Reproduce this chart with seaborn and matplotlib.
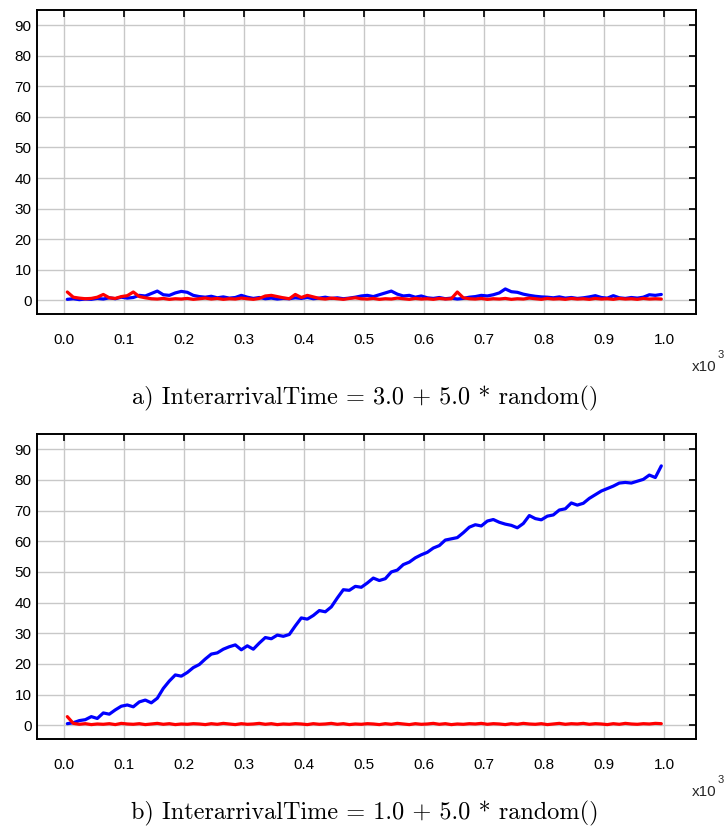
import numpy as np
import pandas as pd
import matplotlib
matplotlib.use("Agg")
import matplotlib.pyplot as plt
import seaborn as sns

# time axis (simulation time), one sample every 10 time units
t = np.arange(5, 1000, 10)

# a) InterarrivalTime = 3.0 + 5.0 * random()
top_blue = [0.3, 0.5, 0.2, 0.4, 0.3, 0.6, 0.4, 0.8, 0.5, 1.0,
            0.7, 0.9, 1.6, 1.4, 2.2, 3.0, 1.8, 1.6, 2.4, 2.9,
            2.6, 1.6, 1.2, 1.0, 1.3, 0.8, 1.1, 0.7, 0.9, 1.6,
            1.0, 0.6, 0.9, 0.5, 0.7, 0.4, 0.6, 0.5, 0.8, 0.6,
            0.9, 0.5, 0.7, 1.0, 0.6, 0.8, 0.5, 0.7, 1.0, 1.4,
            1.6, 1.2, 1.8, 2.4, 3.0, 2.0, 1.4, 1.6, 1.0, 1.4,
            0.8, 0.6, 0.9, 0.5, 0.7, 0.4, 0.6, 1.0, 1.2, 1.6,
            1.4, 1.8, 2.4, 3.7, 2.8, 2.6, 2.0, 1.6, 1.3, 1.1,
            1.0, 0.8, 1.1, 0.7, 0.9, 0.6, 0.8, 1.1, 1.5, 0.9,
            0.7, 1.5, 0.8, 0.6, 0.9, 0.7, 1.0, 1.8, 1.6, 1.9]
top_red = [2.7, 1.0, 0.7, 0.5, 0.6, 1.0, 1.9, 0.8, 0.6, 1.2,
           1.5, 2.7, 1.2, 0.8, 0.5, 0.4, 0.6, 0.3, 0.5, 0.4,
           0.6, 0.3, 0.5, 0.7, 0.4, 0.6, 0.3, 0.5, 0.4, 0.7,
           0.5, 0.3, 0.6, 1.4, 1.6, 1.2, 0.8, 0.5, 1.9, 0.9,
           1.6, 1.1, 0.6, 0.4, 0.7, 0.5, 0.3, 0.6, 0.8, 0.5,
           0.4, 0.6, 0.3, 0.5, 0.4, 0.7, 0.5, 0.3, 0.6, 0.4,
           0.5, 0.3, 0.6, 0.4, 0.5, 2.7, 0.8, 0.5, 0.4, 0.6,
           0.3, 0.5, 0.4, 0.6, 0.3, 0.5, 0.4, 0.7, 0.5, 0.3,
           0.6, 0.4, 0.5, 0.3, 0.6, 0.4, 0.5, 0.3, 0.6, 0.4,
           0.5, 0.3, 0.6, 0.4, 0.5, 0.3, 0.6, 0.4, 0.5, 0.4]

# b) InterarrivalTime = 1.0 + 5.0 * random()
bot_blue = [0.5, 0.8, 1.5, 1.8, 2.8, 2.2, 4.0, 3.6, 5.0, 6.2,
            6.6, 6.0, 7.6, 8.2, 7.3, 8.8, 12.0, 14.4, 16.4, 16.0,
            17.2, 18.8, 19.8, 21.6, 23.2, 23.6, 24.8, 25.6, 26.2, 24.6,
            25.9, 24.8, 26.8, 28.6, 28.2, 29.4, 29.0, 29.6, 32.4, 35.0,
            34.6, 35.8, 37.4, 37.0, 38.6, 41.5, 44.2, 44.0, 45.3, 45.0,
            46.4, 48.0, 47.2, 47.8, 50.0, 50.6, 52.4, 53.2, 54.6, 55.6,
            56.4, 57.8, 58.6, 60.4, 60.8, 61.2, 62.8, 64.6, 65.4, 65.0,
            66.6, 67.1, 66.2, 65.6, 65.2, 64.4, 65.8, 68.4, 67.4, 67.0,
            68.2, 68.6, 70.2, 70.6, 72.5, 71.8, 72.4, 74.0, 75.2, 76.4,
            77.2, 78.0, 79.0, 79.2, 79.0, 79.6, 80.2, 81.6, 80.8, 84.6]
bot_red = [2.8, 0.6, 0.3, 0.5, 0.2, 0.4, 0.3, 0.5, 0.2, 0.6,
           0.4, 0.3, 0.5, 0.2, 0.4, 0.6, 0.3, 0.5, 0.2, 0.4,
           0.3, 0.5, 0.4, 0.2, 0.5, 0.3, 0.6, 0.4, 0.2, 0.5,
           0.3, 0.4, 0.6, 0.3, 0.5, 0.2, 0.4, 0.3, 0.5, 0.4,
           0.2, 0.5, 0.3, 0.4, 0.6, 0.3, 0.5, 0.2, 0.4, 0.3,
           0.5, 0.4, 0.2, 0.5, 0.3, 0.6, 0.4, 0.2, 0.5, 0.3,
           0.4, 0.6, 0.3, 0.5, 0.2, 0.4, 0.3, 0.5, 0.4, 0.6,
           0.3, 0.5, 0.4, 0.2, 0.5, 0.3, 0.6, 0.4, 0.3, 0.5,
           0.2, 0.4, 0.6, 0.3, 0.5, 0.4, 0.6, 0.3, 0.5, 0.4,
           0.2, 0.5, 0.3, 0.6, 0.4, 0.3, 0.5, 0.4, 0.6, 0.5]

xticks = [0, 100, 200, 300, 400, 500, 600, 700, 800, 900, 1000]
xticklabels = ["0.0", "0.1", "0.2", "0.3", "0.4", "0.5", "0.6", "0.7", "0.8", "0.9", "1.0"]
yticks = [0, 10, 20, 30, 40, 50, 60, 70, 80, 90]
captions = ["a) InterarrivalTime = 3.0 + 5.0 * random()",
            "b) InterarrivalTime = 1.0 + 5.0 * random()"]

sns.set_style("white")
plt.rcParams["font.family"] = ["Liberation Sans", "DejaVu Sans"]

fig = plt.figure(figsize=(7.26, 8.40), dpi=100)
ax1 = fig.add_axes([37 / 726, 1 - 314 / 840, 659 / 726, 304 / 840])
ax2 = fig.add_axes([37 / 726, 1 - 739 / 840, 659 / 726, 305 / 840])

panels = [(ax1, top_blue, top_red), (ax2, bot_blue, bot_red)]
for ax, blue, red in panels:
    df = pd.DataFrame({"t": t, "blue": blue, "red": red})
    sns.lineplot(data=df, x="t", y="blue", color="#0000ff", lw=2.3,
                 estimator=None, sort=False, ax=ax)
    sns.lineplot(data=df, x="t", y="red", color="#ff0000", lw=2.3,
                 estimator=None, sort=False, ax=ax)
    ax.set_xlim(-45.5, 1052.8)
    ax.set_ylim(-4.5, 95)
    ax.set_xticks(xticks)
    ax.set_xticklabels(xticklabels)
    ax.set_yticks(yticks)
    ax.set_xlabel("")
    ax.set_ylabel("")
    ax.grid(True, color="#c8c8c8", lw=1.0)
    ax.set_axisbelow(True)
    for side in ["left", "right", "top", "bottom"]:
        ax.spines[side].set_visible(True)
        ax.spines[side].set_color("black")
        ax.spines[side].set_linewidth(1.4)
    ax.tick_params(axis="both", direction="in", length=5, width=1.2,
                   top=True, right=True, labelsize=11, colors="black")
    ax.tick_params(axis="x", pad=14)
    ax.tick_params(axis="y", pad=4)

# x10^3 multiplier labels
for ybase in [367, 792]:
    fig.text(692 / 726, 1 - ybase / 840, "x10", fontsize=11, ha="left", va="center")
    fig.text(718 / 726, 1 - (ybase - 12) / 840, "3", fontsize=8, ha="left", va="center")

fig.text(365 / 726, 1 - 398 / 840, captions[0], fontsize=17.5, family="cmr10",
         ha="center", va="center", color="black")
fig.text(365 / 726, 1 - 813 / 840, captions[1], fontsize=17.5, family="cmr10",
         ha="center", va="center", color="black")

fig.savefig("out.png", dpi=100)
